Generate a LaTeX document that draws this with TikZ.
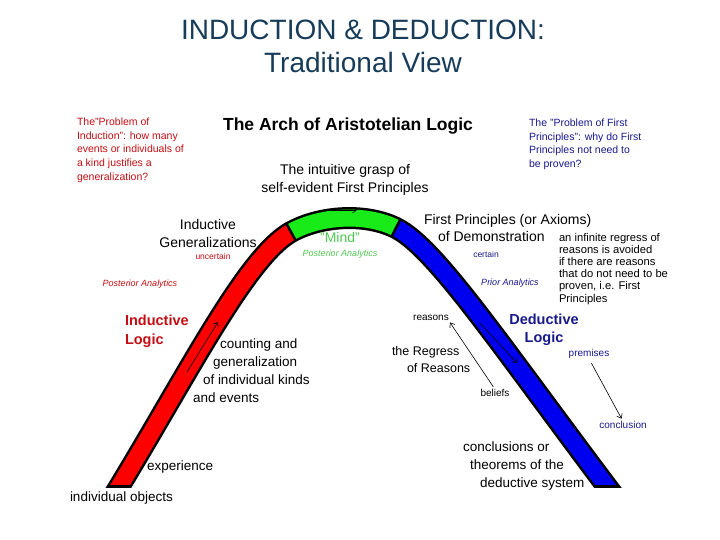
\documentclass[tikz,border=0pt]{standalone}
\usepackage{fontspec}
\setmainfont{Liberation Sans}
\usetikzlibrary{arrows.meta}
\definecolor{titleblue}{RGB}{23,60,90}
\definecolor{indred}{RGB}{195,15,20}
\definecolor{dednavy}{RGB}{25,25,140}
\definecolor{mindgreen}{RGB}{80,200,80}
\definecolor{bandred}{RGB}{255,0,0}
\definecolor{bandgreen}{RGB}{25,235,25}
\definecolor{bandblue}{RGB}{0,0,240}
\newcommand{\fsz}[2]{\fontsize{#1}{#2}\selectfont}
\tikzset{
    every node/.style={inner sep=0pt, outer sep=0pt},
    txt/.style={font=\fsz{13.5}{18}},
    note/.style={font=\fsz{10.5}{13.6}, align=left},
    lbl/.style={font=\fsz{10}{12}},
    wee/.style={font=\fsz{8.5}{10}},
    book/.style={font=\fsz{9}{11}\itshape},
    rim/.style={line width=22pt, black},
    band/.style={line width=17pt},
    pointer/.style={-{Straight Barb[length=4pt,width=6pt]}, line width=0.6pt}
}

\begin{document}
\begin{tikzpicture}[x=1pt, y=-1pt]
        \fill[white] (0,0) rectangle (720,540);
        \useasboundingbox (0,0) rectangle (720,540);
        % the arch
        \begin{scope}
                \clip (0,0) rectangle (720,487);
                \draw[rim] (108,505) .. controls (185,380) and (245,258) .. (291,232)
                        .. controls (321,215.5) and (366,213) .. (396,228)
                        .. controls (436,248) and (500,345) .. (617,500);
        \end{scope}
        \begin{scope}
                \clip (0,0) rectangle (720,484);
                \draw[band, bandred] (108,505) .. controls (185,380) and (245,258) .. (291,232);
                \draw[band, bandgreen] (291,232) .. controls (321,215.5) and (366,213) .. (396,228);
                \draw[band, bandblue] (396,228) .. controls (436,248) and (500,345) .. (617,500);
        \end{scope}
        \coordinate (j0) at (286.2,223.2);
        \coordinate (j1) at (295.8,240.8);
        \coordinate (j2) at (400.5,219.1);
        \coordinate (j3) at (391.5,236.9);
        \draw[line width=2.5pt] (j0) -- (j1);
        \draw[line width=2.5pt] (j2) -- (j3);
        % arrows inside the arch
        \coordinate (r0) at (187,372);
        \coordinate (r1) at (218,322);
        \coordinate (g0) at (323,210);
        \coordinate (g1) at (357,210);
        \coordinate (b0) at (480,323);
        \coordinate (b1) at (517,363);
        \draw[pointer] (r0) -- (r1);
        \draw[pointer] (g0) -- (g1);
        \draw[pointer] (b0) -- (b1);

        % titles
        \node (t0) [font=\fsz{28}{34}, text=titleblue] at (363,30) {INDUCTION \& DEDUCTION:};
        \node (t1) [font=\fsz{28}{34}, text=titleblue] at (363,62) {Traditional View};
        \node (t2) [font=\fsz{17.5}{21}\bfseries] at (348,126) {The Arch of Aristotelian Logic};

        % induction side
        \node (n0) [note, text=indred, anchor=north west] at (77,118) {The"Problem of\\Induction":  how many\\events or individuals of\\a kind justifies a\\generalization?};
        \node (n1) [txt, font=\fsz{14}{18}, align=center] at (208,233) {Inductive\\Generalizations};
        \node (n2) [wee, text=indred] at (213,256) {uncertain};
        \node (n3) [book, text=indred] at (140,284) {Posterior Analytics};
        \node (n4) [font=\fsz{14.5}{19}\bfseries, text=indred, align=left, anchor=north west] at (125,315) {Inductive\\Logic};
        \node (n5) [txt, align=left, anchor=north west] at (193,339) {\hspace{27pt}counting and\\\hspace{20pt}generalization\\\hspace{10pt}of individual kinds\\and events};
        \node (n6) [txt, anchor=west] at (147,467) {experience};
        \node (n7) [txt, anchor=west] at (70,498) {individual objects};

        % top of the arch
        \node (m0) [txt, font=\fsz{14}{18}, align=center] at (345,180) {The intuitive grasp of\\self-evident First Principles};
        \node (m1) [font=\fsz{14}{18}, text=mindgreen] at (340,237) {"Mind"};
        \node (m2) [book, text=mindgreen] at (340,254) {Posterior Analytics};

        % deduction side
        \node (d0) [note, text=dednavy, anchor=north west] at (529,119) {The "Problem of First\\Principles":  why do First\\Principles not need to\\be proven?};
        \node (d1) [txt, font=\fsz{14}{17}, align=left, anchor=north west] at (424,214) {First Principles (or Axioms)\\\hspace{14pt}of Demonstration};
        \node (d2) [wee, text=dednavy] at (486,254) {certain};
        \node (d3) [book, text=dednavy] at (510,283) {Prior Analytics};
        \node (d4) [note, font=\fsz{11.2}{12.2}, anchor=north west] at (559,233) {an infinite regress of\\reasons is avoided\\if there are reasons\\that do not need to be\\proven, i.e. First\\Principles};
        \node (d5) [lbl] at (431,318) {reasons};
        \node (d6) [font=\fsz{14.5}{18}\bfseries, text=dednavy, align=center] at (544,330) {Deductive\\Logic};
        \node (d7) [txt, font=\fsz{12.5}{17}, align=left, anchor=north west] at (392,346) {the Regress\\\hspace{15pt}of Reasons};
        \node (d8) [lbl, text=dednavy] at (589,354) {premises};
        \node (d9) [lbl] at (495,393) {beliefs};
        \node (d10) [lbl, text=dednavy] at (623,425) {conclusion};
        \node (d11) [txt, align=left, anchor=north west] at (463,442) {conclusions or\\\hspace{7pt}theorems of the\\\hspace{17pt}deductive system};

        \draw[pointer, shorten <=3pt, shorten >=2pt] (d9.north) -- (d5.south east);
        \draw[pointer, shorten <=5pt, shorten >=3pt] (d8.south) -- (d10.north);
\end{tikzpicture}
\end{document}
